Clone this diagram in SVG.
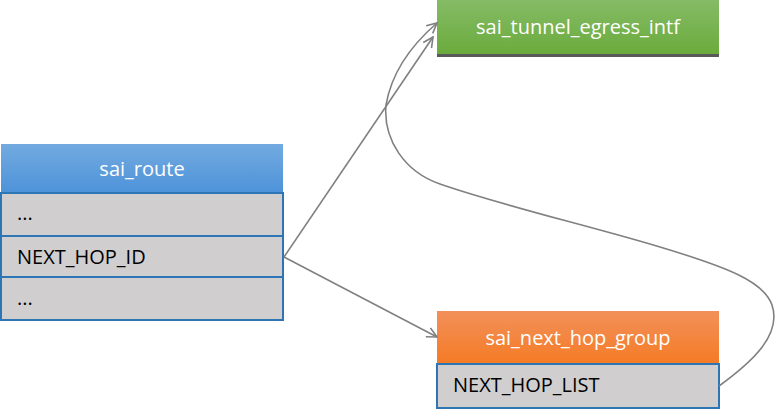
<svg xmlns="http://www.w3.org/2000/svg" width="776" height="414" viewBox="0 0 776 414">
<style>
.row{fill:#d0cece;stroke:#2e75b6;stroke-width:2}
.hdr{font-family:"Open Sans","DejaVu Sans",sans-serif;font-size:20px;fill:#ffffff;text-anchor:middle}
.fld{font-family:"Open Sans","DejaVu Sans",sans-serif;font-size:20px;fill:#000000}
.con{fill:none;stroke:#808080;stroke-width:1.6}
</style>
<defs>
<linearGradient id="gBlue" x1="0" y1="0" x2="0" y2="1"><stop offset="0" stop-color="#73aae0"/><stop offset="1" stop-color="#4e93d9"/></linearGradient>
<linearGradient id="gGreen" x1="0" y1="0" x2="0" y2="1"><stop offset="0" stop-color="#86bb66"/><stop offset="1" stop-color="#6aab3c"/></linearGradient>
<linearGradient id="gOrange" x1="0" y1="0" x2="0" y2="1"><stop offset="0" stop-color="#f2905a"/><stop offset="1" stop-color="#f57b25"/></linearGradient>
<marker id="arr" viewBox="0 0 12 12" refX="11" refY="6" markerWidth="12" markerHeight="12" markerUnits="userSpaceOnUse" orient="auto">
<path d="M1,1 L11,6 L1,11" fill="none" stroke="#808080" stroke-width="1.6"/>
</marker>
</defs>
<g id="sai_route">
<rect x="1" y="144" width="282" height="48" fill="url(#gBlue)"/>
<text class="hdr" x="142" y="176">sai_route</text>
<rect class="row" x="1" y="193" width="282" height="43"/>
<rect class="row" x="1" y="236" width="282" height="41"/>
<rect class="row" x="1" y="277" width="282" height="43"/>
<text class="fld" x="17" y="220">...</text>
<text class="fld" x="17" y="264">NEXT_HOP_ID</text>
<text class="fld" x="17" y="305">...</text>
</g>
<g id="sai_tunnel_egress_intf">
<rect x="437" y="0" width="282" height="55" fill="url(#gGreen)"/>
<rect x="437" y="54" width="282" height="3" fill="#595959"/>
<text class="hdr" x="578" y="34">sai_tunnel_egress_intf</text>
</g>
<g id="sai_next_hop_group">
<rect x="437" y="311" width="282" height="53" fill="url(#gOrange)"/>
<text class="hdr" x="578" y="345">sai_next_hop_group</text>
<rect class="row" x="437" y="364" width="282" height="44"/>
<text class="fld" x="453" y="392">NEXT_HOP_LIST</text>
</g>
<g id="connectors">
<path class="con" d="M284,257 L433,37" marker-end="url(#arr)"/>
<path class="con" d="M284,257 L437,337" marker-end="url(#arr)"/>
<path class="con" d="M719,386 C752,362 782,335 772,305 C764,282 730,268 660,247 C590,226 500,205 440,184 C405,172 383,140 386,105 C392,70 415,42 437,23" marker-end="url(#arr)"/>
</g>
</svg>
